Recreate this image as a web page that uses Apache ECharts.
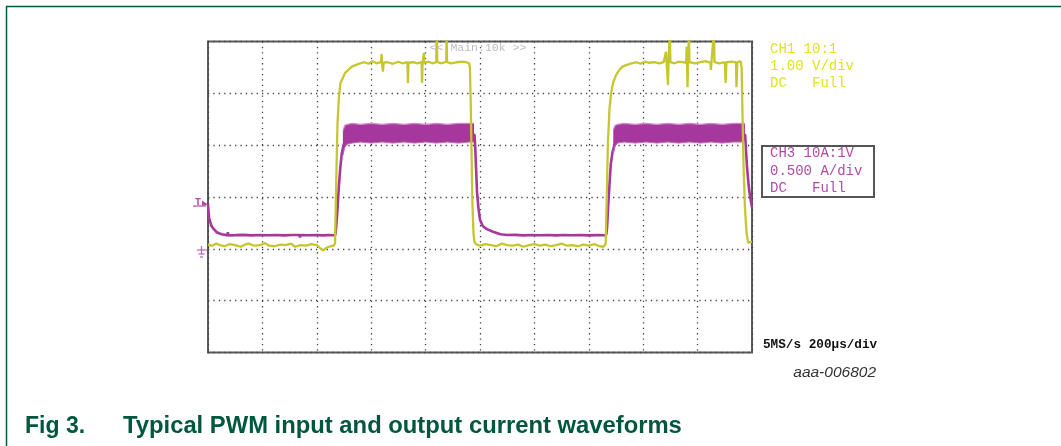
<!DOCTYPE html>
<html>
<head>
<meta charset="utf-8">
<script src="https://cdn.jsdelivr.net/npm/echarts@6/dist/echarts.min.js"></script>
<style>
html,body{margin:0;padding:0;background:#fff;}
#chart{width:1061px;height:446px;}
</style>
</head>
<body>
<div id="chart"></div>
<script>
// Time axis (µs), 200 µs/div, 10 divisions
const timeTicks = [0, 200, 400, 600, 800, 1000, 1200, 1400, 1600, 1800, 2000];

// CH1 (yellow) PWM input, volts (1.00 V/div)
const ch1Time = [0,15,30,45,60,80,100,120,135,150,170,190,210,225,245,265,285,305,320,340,360,380,400,415,425,435,450,462,
  467,471,476,481,487,496,505,515,530,545,560,
  575,590,605,620,636,638,640,643,646,660,680,700,715,733,735,737,755,770,785,787,789,793,794,795,810,825,839,841,843,860,876,877,879,895,915,935,950,960,
  963,966,969,972,976,980,988,
  1000,1020,1040,1060,1080,1100,1120,1140,1160,1180,1200,1220,1240,1260,1280,1300,1320,1340,1360,1380,1400,1420,1440,1455,
  1462,1466,1470,1476,1482,1489,1500,1512,1525,1540,1558,
  1575,1590,1605,1620,1640,1660,1675,1682,1684,1686,1690,1691,1693,1697,1698,1700,1715,1730,1745,1758,1760,1761,1763,1765,1767,1768,1770,1790,1810,1830,1847,1849,1851,1858,1860,1862,1880,1900,1903,1906,1925,1941,1943,1946,1958,
  1962,1965,1969,1974,1980,1986,1992,2000];
const ch1Volt = [0.08,0.06,0.1,0.07,0.05,0.09,0.07,0.04,0.08,0.1,0.06,0.07,0.11,0.06,0.05,0.08,0.07,0.1,0.04,0.07,0.06,0.09,0.07,0.0,-0.03,0.02,0.05,0.06,
  0.1,1.2,2.4,2.9,3.2,3.3,3.4,3.45,3.52,3.55,3.58,
  3.6,3.57,3.62,3.58,3.6,3.76,3.58,3.42,3.59,3.6,3.57,3.61,3.58,3.6,3.2,3.59,3.6,3.58,3.6,3.2,3.6,3.6,3.78,3.59,3.61,3.58,3.6,4.2,3.6,3.58,3.61,4.2,3.6,3.58,3.6,3.61,3.6,3.58,
  3.5,2.8,1.8,0.9,0.3,0.12,0.08,
  0.06,0.09,0.07,0.05,0.1,0.07,0.06,0.08,0.04,0.07,0.09,0.06,0.08,0.05,0.07,0.1,0.06,0.07,0.05,0.08,0.06,0.09,0.05,0.04,
  0.1,1.0,2.0,2.7,3.0,3.2,3.35,3.45,3.52,3.55,3.58,
  3.6,3.57,3.61,3.59,3.6,3.58,3.6,3.6,3.8,3.59,3.59,3.16,3.6,3.6,4.2,3.6,3.58,3.61,3.6,3.59,3.9,3.6,3.12,3.6,3.6,4.2,3.6,3.58,3.6,3.62,3.59,3.45,3.6,3.6,4.2,3.6,3.58,3.6,3.2,3.6,3.61,3.6,3.12,3.6,3.62,
  3.5,2.6,1.6,0.8,0.3,0.12,0.1,0.14];

// CH3 (magenta) output current, amps (0.500 A/div)
const ch3Time = [0,2,4,8,13,18,25,32,40,50,62,71,73,75,100,130,160,190,220,250,280,310,336,338,340,370,400,420,440,460,468,
  471,476,481,487,492,498,505,515,
  980,983,986,989,994,1000,1010,1025,1048,1075,1100,
  1130,1160,1190,1220,1250,1280,1310,1340,1370,1400,1430,1455,1464,
  1467,1471,1476,1481,1487,1494,1502,1512,
  1975,1978,1982,1986,1990,1995,2000];
const ch3Amp = [0.43,0.36,0.3,0.26,0.22,0.2,0.18,0.16,0.15,0.14,0.135,0.13,0.16,0.13,0.132,0.135,0.13,0.133,0.131,0.134,0.13,0.133,0.133,0.11,0.133,0.131,0.134,0.13,0.132,0.131,0.133,
  0.2,0.38,0.6,0.8,0.92,1.0,1.05,1.1,
  1.1,0.95,0.75,0.55,0.4,0.28,0.22,0.19,0.165,0.14,0.133,
  0.135,0.13,0.133,0.131,0.134,0.13,0.133,0.131,0.134,0.13,0.132,0.131,0.133,
  0.2,0.4,0.62,0.82,0.93,1.0,1.05,1.1,
  1.1,0.95,0.78,0.66,0.56,0.47,0.4];

// CH3 ripple band envelope during the two on-states, amps
const band1Time = [496,503,512,530,560,600,640,680,720,760,800,840,880,920,960,978];
const band1Low  = [0.9,0.98,1.01,1.02,1.03,1.02,1.03,1.02,1.03,1.02,1.03,1.02,1.03,1.02,1.03,1.03];
const band1High = [1.14,1.19,1.2,1.21,1.2,1.21,1.2,1.21,1.2,1.21,1.2,1.21,1.2,1.21,1.21,1.21];
const band2Time = [1490,1497,1506,1530,1570,1610,1650,1690,1730,1770,1810,1850,1890,1930,1960,1974];
const band2Low  = [0.92,0.99,1.02,1.03,1.02,1.03,1.02,1.03,1.02,1.03,1.02,1.03,1.02,1.03,1.03,1.03];
const band2High = [1.15,1.19,1.2,1.21,1.2,1.21,1.2,1.21,1.2,1.21,1.2,1.21,1.2,1.21,1.21,1.21];

const ch1Labels = ['CH1 10:1', '1.00 V/div', 'DC   Full'];
const ch3Labels = ['CH3 10A:1V', '0.500 A/div', 'DC   Full'];
const timebaseLabel = '5MS/s 200\u00b5s/div';
const topLabel = '<< Main:10k >>';
const figId = 'aaa-006802';
const figNum = 'Fig 3.';
const figTitle = 'Typical PWM input and output current waveforms';

const YEL = '#c6c62e', YEL_TXT = '#e2e21c', MAG = '#a6379c', MAG_TXT = '#b14aa6', GREEN = '#00573f';

const zip = (a, b) => a.map((v, i) => [v, b[i]]);
const bands = [
  {t: band1Time, lo: band1Low, hi: band1High},
  {t: band2Time, lo: band2Low, hi: band2High}
];

const chart = echarts.init(document.getElementById('chart'), null, {renderer: 'canvas'});
const mono = "'Liberation Mono', 'DejaVu Sans Mono', monospace";
const sans = "'Liberation Sans', Arial, sans-serif";

function txt(text, x, y, size, color, opts) {
  opts = opts || {};
  return {
    type: 'text', silent: true, z: 100,
    style: {
      text: text, x: x, y: y,
      font: (opts.style || 'normal') + ' ' + (opts.weight || 'normal') + ' ' + size + 'px ' + (opts.family || mono),
      fill: color,
      textAlign: opts.align || 'left', align: opts.align || 'left',
      textVerticalAlign: 'middle', verticalAlign: 'middle'
    }
  };
}

const graphics = [
  {type: 'polyline', silent: true, shape: {points: [[6.5, 446], [6.5, 6.5], [1061, 6.5]]}, style: {stroke: GREEN, lineWidth: 1.5, fill: 'none'}},
  txt(topLabel, 478, 48, 11.5, '#bdbdbd', {align: 'center'}),
  txt(ch1Labels[0], 770, 49, 14, YEL_TXT),
  txt(ch1Labels[1], 770, 66, 14, YEL_TXT),
  txt(ch1Labels[2], 770, 83.5, 14, YEL_TXT),
  {type: 'rect', silent: true, shape: {x: 762, y: 146, width: 112, height: 51}, style: {fill: 'none', stroke: '#555', lineWidth: 2}},
  txt(ch3Labels[0], 770, 153, 14, MAG_TXT),
  txt(ch3Labels[1], 770, 171, 14, MAG_TXT),
  txt(ch3Labels[2], 770, 188, 14, MAG_TXT),
  txt(timebaseLabel, 763, 345, 12.7, '#111', {weight: 'bold'}),
  txt(figId, 876, 373, 15.5, '#333', {align: 'right', style: 'italic', family: sans}),
  txt(figNum, 25, 426.5, 23, GREEN, {weight: 'bold', family: sans}),
  txt(figTitle, 123, 426.5, 23.8, GREEN, {weight: 'bold', family: sans}),
  // trigger marker
  txt('T', 198, 202, 10, MAG_TXT, {align: 'center', weight: 'bold'}),
  {type: 'polyline', silent: true, shape: {points: [[193, 206], [206, 206]]}, style: {stroke: MAG_TXT, lineWidth: 1.2, fill: 'none'}},
  {type: 'polygon', silent: true, shape: {points: [[202, 200.5], [208, 204.5], [202, 206]]}, style: {fill: MAG_TXT}},
  // ground marker
  {type: 'polyline', silent: true, shape: {points: [[197, 250], [207, 250]]}, style: {stroke: '#c063b5', lineWidth: 1.2, fill: 'none'}},
  {type: 'polyline', silent: true, shape: {points: [[201.5, 246], [201.5, 254]]}, style: {stroke: '#c063b5', lineWidth: 1.2, fill: 'none'}},
  {type: 'polyline', silent: true, shape: {points: [[198.5, 254], [204.5, 254]]}, style: {stroke: '#c063b5', lineWidth: 1.2, fill: 'none'}},
  {type: 'polyline', silent: true, shape: {points: [[200, 257], [203, 257]]}, style: {stroke: '#c063b5', lineWidth: 1.2, fill: 'none'}}
];

const dotted = {show: true, lineStyle: {color: '#444', width: 1.3, type: [1.3, 4.1]}};

chart.setOption({
  animation: false,
  backgroundColor: '#fff',
  grid: {left: 208, top: 41.5, width: 544, height: 311, show: true, borderColor: '#5a5a5a', borderWidth: 2, backgroundColor: 'transparent', containLabel: false},
  xAxis: {type: 'value', min: timeTicks[0], max: timeTicks[timeTicks.length - 1], interval: timeTicks[1] - timeTicks[0],
    axisLabel: {show: false}, axisTick: {show: false}, axisLine: {show: false}, splitLine: dotted},
  yAxis: [
    {type: 'value', min: -2, max: 4, interval: 1, axisLabel: {show: false}, axisTick: {show: false}, axisLine: {show: false}, splitLine: dotted},
    {type: 'value', min: -1, max: 2, interval: 0.5, show: false, splitLine: {show: false}}
  ],
  series: [
    {name: 'CH3', type: 'line', yAxisIndex: 1, data: zip(ch3Time, ch3Amp), showSymbol: false, z: 2,
      lineStyle: {color: MAG, width: 2.6}, itemStyle: {color: MAG}},
    {name: 'CH3 ripple', type: 'custom', yAxisIndex: 1, z: 3, silent: true,
      data: bands.map((b, i) => [b.t[0], b.lo[0], i]),
      renderItem: function (params, api) {
        const b = bands[api.value(2)];
        const upper = b.t.map((t, k) => api.coord([t, b.hi[k]]));
        const lower = b.t.map((t, k) => api.coord([t, b.lo[k]])).reverse();
        return {
          type: 'group',
          children: [
            {type: 'polygon', shape: {points: upper.concat(lower)}, style: {fill: MAG}},
            {type: 'polyline', shape: {points: upper}, style: {stroke: '#d08ac9', lineWidth: 1.3, fill: 'none'}},
            {type: 'polyline', shape: {points: lower}, style: {stroke: '#c06cb7', lineWidth: 1, fill: 'none'}}
          ]
        };
      }},
    {name: 'CH1', type: 'line', yAxisIndex: 0, data: zip(ch1Time, ch1Volt), showSymbol: false, z: 4,
      lineStyle: {color: YEL, width: 2.3}, itemStyle: {color: YEL}}
  ],
  graphic: graphics
});
</script>
</body>
</html>
